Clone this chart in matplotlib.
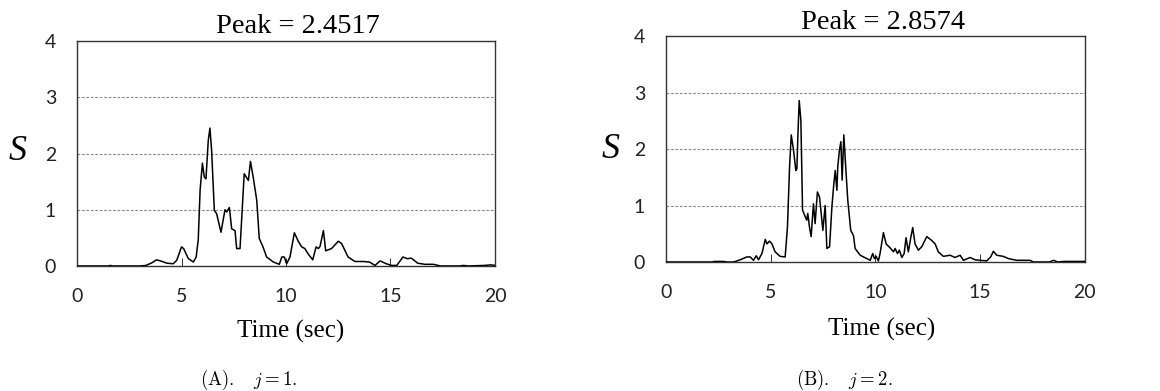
import matplotlib
matplotlib.use("Agg")
import matplotlib.pyplot as plt

plt.rcParams["mathtext.fontset"] = "cm"

TICK_FONT = "Lato"
SERIF = "Liberation Serif"
DARK = "#333333"
GRID = "#8a8a8a"

# S response history, j = 1
t1 = [0, 1.5, 1.6, 1.7, 3.0, 3.3, 3.6, 3.8, 4.0, 4.3, 4.6, 4.77, 5.0, 5.1, 5.33,
      5.57, 5.7, 5.8, 5.89, 6.0, 6.09, 6.17, 6.28, 6.36, 6.44, 6.57, 6.68, 6.89,
      7.08, 7.16, 7.29, 7.4, 7.56, 7.64, 7.8, 8.0, 8.2, 8.3, 8.43, 8.6, 8.72, 8.9,
      9.07, 9.4, 9.68, 9.8, 9.92, 10.03, 10.19, 10.4, 10.6, 10.75, 10.9, 11.07,
      11.28, 11.44, 11.55, 11.63, 11.79, 11.9, 12.18, 12.5, 12.66, 12.97, 13.3,
      13.7, 14.0, 14.26, 14.5, 14.8, 15.05, 15.3, 15.6, 15.8, 16.0, 16.3, 16.65,
      17.05, 17.4, 18.3, 18.5, 18.7, 19.5, 19.8, 20.0]
s1 = [0, 0, 0.01, 0, 0, 0.01, 0.06, 0.11, 0.09, 0.05, 0.04, 0.1, 0.34, 0.31, 0.13,
      0.07, 0.16, 0.46, 1.35, 1.83, 1.58, 1.55, 2.23, 2.4517, 2.06, 0.99, 0.93, 0.6,
      1.0, 0.96, 1.04, 0.66, 0.63, 0.31, 0.31, 1.64, 1.52, 1.86, 1.58, 1.17, 0.49,
      0.34, 0.16, 0.07, 0.03, 0.16, 0.16, 0.04, 0.16, 0.59, 0.43, 0.34, 0.31, 0.21,
      0.11, 0.34, 0.31, 0.35, 0.63, 0.27, 0.31, 0.44, 0.4, 0.16, 0.08, 0.08, 0.07,
      0.01, 0.09, 0.04, 0.01, 0.01, 0.16, 0.13, 0.14, 0.05, 0.03, 0.03, 0, 0, 0.01,
      0, 0.01, 0.02, 0.01]

# S response history, j = 2
t2 = [0, 2.2, 2.3, 2.75, 2.9, 3.23, 3.55, 3.86, 4.02, 4.18, 4.31, 4.42, 4.58, 4.74,
      4.82, 4.94, 5.06, 5.21, 5.45, 5.69, 5.8, 5.9, 5.98, 6.09, 6.2, 6.25, 6.3,
      6.36, 6.44, 6.52, 6.65, 6.72, 6.77, 6.85, 6.93, 7.04, 7.12, 7.23, 7.33, 7.41,
      7.49, 7.6, 7.68, 7.81, 7.92, 8.0, 8.08, 8.16, 8.2, 8.28, 8.35, 8.41, 8.49,
      8.59, 8.68, 8.82, 8.95, 9.03, 9.27, 9.59, 9.75, 9.87, 9.95, 10.03, 10.14,
      10.22, 10.38, 10.51, 10.7, 10.86, 10.94, 11.05, 11.14, 11.26, 11.37, 11.46,
      11.57, 11.69, 11.78, 11.89, 12.05, 12.21, 12.45, 12.69, 12.85, 13.0, 13.24,
      13.56, 13.8, 14.04, 14.2, 14.52, 14.75, 14.99, 15.31, 15.5, 15.63, 15.79,
      16.1, 16.35, 16.75, 17.38, 17.54, 18.3, 18.5, 18.7, 19.0, 20.0]
s2 = [0, 0, 0.01, 0.01, 0, 0, 0.04, 0.09, 0.09, 0.03, 0.11, 0.04, 0.15, 0.4, 0.32,
      0.37, 0.32, 0.18, 0.1, 0.09, 0.62, 1.68, 2.25, 1.98, 1.62, 1.65, 2.27, 2.8574,
      2.51, 0.92, 0.8, 0.74, 0.86, 0.62, 0.45, 1.03, 0.68, 1.24, 1.15, 0.86, 0.56,
      1.0, 0.24, 0.27, 0.97, 1.33, 1.62, 1.27, 1.68, 1.98, 2.13, 1.45, 2.25, 1.62,
      1.09, 0.56, 0.47, 0.24, 0.12, 0.06, 0.03, 0.15, 0.06, 0.1, 0.02, 0.15, 0.52,
      0.32, 0.25, 0.18, 0.24, 0.15, 0.21, 0.08, 0.15, 0.43, 0.18, 0.44, 0.61, 0.32,
      0.21, 0.27, 0.45, 0.38, 0.32, 0.18, 0.1, 0.12, 0.08, 0.12, 0.03, 0.08, 0.04,
      0.03, 0.02, 0.09, 0.19, 0.12, 0.1, 0.06, 0.03, 0.03, 0, 0, 0.03, 0, 0.01, 0.01]

x_ticks = [0, 5, 10, 15, 20]
y_ticks = [0, 1, 2, 3, 4]
captions = [r"$(\mathrm{A}).\quad j = 1.$", r"$(\mathrm{B}).\quad j = 2.$"]

fig = plt.figure(figsize=(11.6, 3.91), dpi=100)

panels = [
    # axes rect, title x/y, S label x/y, xlabel x/y, caption x
    dict(rect=[0.0664, 0.3197, 0.3603, 0.5754], t=t1, s=s1,
         title_xy=(0.529, 1.036), s_xy=(-0.142, 0.507), xl_xy=(0.51, -0.29),
         cap_x=0.214),
    dict(rect=[0.5741, 0.3299, 0.3612, 0.5780], t=t2, s=s2,
         title_xy=(0.519, 1.031), s_xy=(-0.131, 0.496), xl_xy=(0.514, -0.30),
         cap_x=0.728),
]

for p, cap in zip(panels, captions):
    ax = fig.add_axes(p["rect"])
    ax.plot(p["t"], p["s"], color="black", lw=1.1, zorder=3)
    ax.set_xlim(0, 20)
    ax.set_ylim(0, 4)
    ax.set_xticks(x_ticks)
    ax.set_yticks(y_ticks)

    for y in y_ticks[1:-1]:
        ax.axhline(y, color=GRID, lw=0.8, ls=(0, (2.5, 1.5)), zorder=1)

    for sp in ax.spines.values():
        sp.set_color(DARK)
        sp.set_linewidth(1.0)

    ax.tick_params(axis="x", direction="in", length=5.5, width=0.7, color=DARK,
                   pad=16, labelsize=14, labelcolor="#222222")
    ax.tick_params(axis="y", length=0, pad=15, labelsize=14,
                   labelcolor="#222222")
    for lab in ax.get_xticklabels() + ax.get_yticklabels():
        lab.set_fontfamily(TICK_FONT)

    peak = max(p["s"])
    ax.text(*p["title_xy"], f"Peak = {peak:.4f}", transform=ax.transAxes,
            ha="center", va="baseline", fontsize=20.5, family=SERIF)
    ax.text(*p["s_xy"], "S", transform=ax.transAxes, ha="center", va="center",
            fontsize=26, family=SERIF, style="italic")
    ax.text(*p["xl_xy"], "Time (sec)", transform=ax.transAxes, ha="center",
            va="center", fontsize=18, family=SERIF)

    fig.text(p["cap_x"], 0.028, cap, ha="center", va="center", fontsize=13.5)

fig.savefig("out.png", dpi=100, facecolor="white")
